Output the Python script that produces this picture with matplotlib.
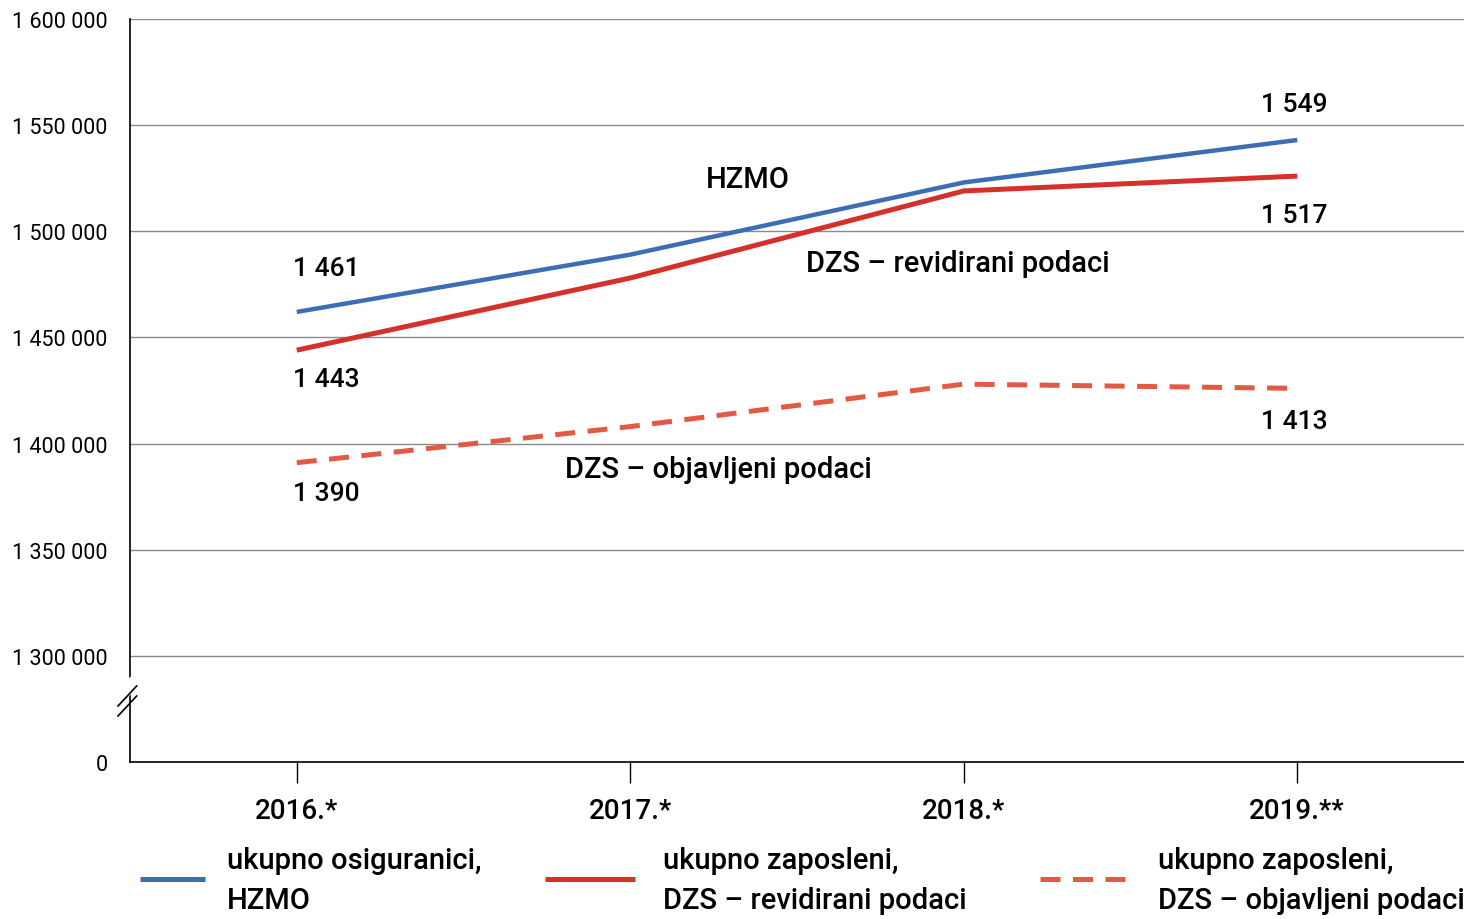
import matplotlib
matplotlib.use("Agg")
import matplotlib.pyplot as plt
from matplotlib.lines import Line2D
from matplotlib.patches import Polygon

plt.rcParams['font.family'] = ['Roboto', 'DejaVu Sans']
plt.rcParams['font.weight'] = 500

years = ['2016.*', '2017.*', '2018.*', '2019.**']
hzmo = [1462000, 1489000, 1523000, 1543000]
dzs_rev = [1444000, 1478000, 1519000, 1526000]
dzs_obj = [1391000, 1408000, 1428000, 1426000]
hzmo_lbl = ['1 461', '', '', '1 549']
rev_lbl = ['1 443', '', '', '1 517']
obj_lbl = ['1 390', '', '', '1 413']

y_ticks = [1250000, 1300000, 1350000, 1400000, 1450000, 1500000, 1550000, 1600000]
y_tick_lbl = ['0', '1 300 000', '1 350 000', '1 400 000', '1 450 000',
              '1 500 000', '1 550 000', '1 600 000']

blue = '#3d6db4'
red = '#d6302a'
red2 = '#e25a43'

fig = plt.figure(figsize=(14.64, 9.2), dpi=100)
ax = fig.add_axes([130/1464, 1-763/920, 1-130/1464, (763-20)/920])

x = range(len(years))
ax.plot(x, hzmo, color=blue, lw=3.2, solid_capstyle='butt')
ax.plot(x, dzs_rev, color=red, lw=3.6, solid_capstyle='butt')
ax.plot(x, dzs_obj, color=red2, lw=3.6, ls=(0, (4, 2.5)))

ax.set_xlim(-0.5, 3.5)
ax.set_ylim(1250000, 1600000)
ax.set_yticks(y_ticks)
ax.set_yticklabels(y_tick_lbl, fontsize=15.5, fontweight='normal')
ax.set_xticks(list(x))
ax.set_xticklabels(years, fontsize=20)
ax.tick_params(axis='y', length=0, pad=16)
ax.tick_params(axis='x', length=15, width=1, direction='out', pad=10)

for v in y_ticks[1:]:
    ax.axhline(v, color='#8a8a8a', lw=1, zorder=0)

for s in ['top', 'right']:
    ax.spines[s].set_visible(False)
ax.spines['left'].set_linewidth(1.2)
ax.spines['bottom'].set_linewidth(1.2)

# axis break
by1 = 1250000 + (763 - 717) / 743 * 350000
off = 20 / 743 * 350000
tr = ax.get_yaxis_transform()
gap = Polygon([(-0.012, by1 + 0.4*off), (0.005, by1 + off*1.3),
               (0.005, by1 + 2.2*off), (-0.012, by1 + 1.3*off)],
              closed=True, transform=tr, facecolor='white', edgecolor='none',
              clip_on=False, zorder=5)
ax.add_patch(gap)
for d in [0, 0.5*off]:
    ax.add_line(Line2D([-0.009, 0.005], [by1 + d, by1 + d + off], transform=tr,
                       color='black', lw=1.2, clip_on=False, zorder=6))

# value labels
offs = {
    'hzmo': [(-4, 44), (-36, 36)],
    'rev': [(-4, -29), (-36, -39)],
    'obj': [(-4, -30), (-36, -33)],
}
for key, vals, lbls in [('hzmo', hzmo, hzmo_lbl), ('rev', dzs_rev, rev_lbl), ('obj', dzs_obj, obj_lbl)]:
    for j, i in enumerate([0, 3]):
        ax.annotate(lbls[i], (i, vals[i]), xytext=offs[key][j], textcoords='offset pixels',
                    ha='left', va='center', fontsize=19)

ax.text(1.354, 1524600, 'HZMO', ha='center', va='center', fontsize=21)
ax.text(1.526, 1485000, 'DZS – revidirani podaci', ha='left', va='center', fontsize=21)
ax.text(0.805, 1387900, 'DZS – objavljeni podaci', ha='left', va='center', fontsize=21)

# legend
leg = [
    (140, 205, blue, '-', 'ukupno osiguranici,\nHZMO', 227),
    (545, 635, red, '-', 'ukupno zaposleni,\nDZS – revidirani podaci', 663),
    (1040, 1130, red2, (0, (4, 2.5)), 'ukupno zaposleni,\nDZS – objavljeni podaci', 1158),
]
for x0, x1, c, ls, txt, tx in leg:
    fig.add_artist(Line2D([x0/1464, x1/1464], [1-880/920, 1-880/920], color=c,
                          lw=3.6, ls=ls, solid_capstyle='butt'))
    fig.text(tx/1464, 1-881/920, txt, ha='left', va='center', fontsize=21, linespacing=1.55)

fig.savefig('out.png', dpi=100)
